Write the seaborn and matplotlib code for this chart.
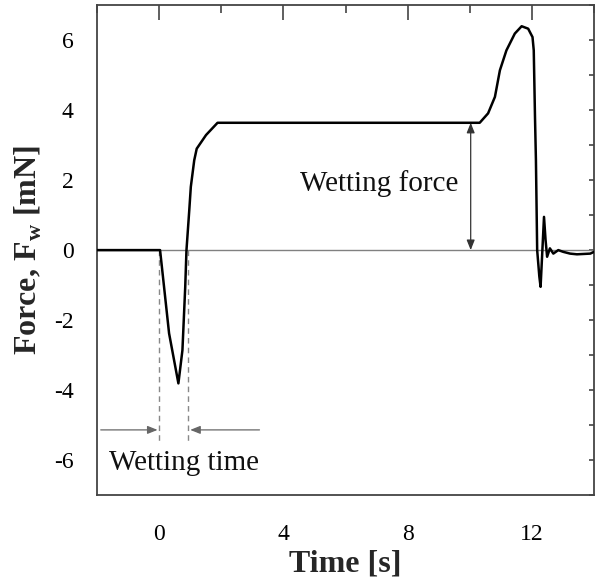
import numpy as np
import pandas as pd
import matplotlib
matplotlib.use("Agg")
import matplotlib.pyplot as plt
import seaborn as sns

# ---- data ----
time_s = [-2.0, 0.03, 0.32, 0.62, 0.75, 0.84, 0.88, 0.97, 1.02, 1.13, 1.21, 1.51, 1.88,
          10.32, 10.59, 10.81, 10.97, 11.18, 11.45, 11.67, 11.88, 12.02, 12.06, 12.10,
          12.13, 12.17, 12.24, 12.28, 12.39, 12.44, 12.49, 12.58, 12.69, 12.85, 13.01,
          13.23, 13.45, 13.88, 14.0]
force_mN = [0.0, 0.0, -2.38, -3.81, -2.86, -1.05, 0.0, 1.14, 1.81, 2.57, 2.90, 3.29, 3.64,
            3.64, 3.91, 4.38, 5.14, 5.71, 6.19, 6.40, 6.33, 6.09, 5.71, 3.80,
            2.57, 0.0, -0.76, -1.05, 0.95, 0.29, -0.19, 0.05, -0.10, 0.0, -0.05,
            -0.10, -0.12, -0.10, -0.05]

x_ticks = [0, 4, 8, 12]
y_ticks = [-6, -4, -2, 0, 2, 4, 6]
wetting_force_t = 10.03
wetting_force_val = 3.64
wetting_time_start = 0.0
wetting_time_end = 0.94

df = pd.DataFrame({"Time": time_s, "Force": force_mN})

sns.set_theme(style="white")
plt.rcParams["font.family"] = ["Liberation Serif", "DejaVu Serif"]
plt.rcParams["mathtext.fontset"] = "custom"
plt.rcParams["mathtext.rm"] = "Liberation Serif"
plt.rcParams["mathtext.bf"] = "Liberation Serif:bold"

fig = plt.figure(figsize=(5.97, 5.83), dpi=100)
ax = fig.add_axes([0.1625, 0.151, 0.8325, 0.840])

spine_col = "#444444"
ax.axhline(0, color="#808080", lw=1.0, zorder=1)

sns.lineplot(data=df, x="Time", y="Force", ax=ax, color="black", lw=1.8,
             estimator=None, sort=False, zorder=3)

ax.set_xlim(-2, 14)
ax.set_ylim(-7, 7)
ax.set_xticks(x_ticks)
ax.set_xticks([-2, 2, 6, 10, 14], minor=True)
ax.set_yticks(y_ticks)
ax.set_yticks([-7, -5, -3, -1, 1, 3, 5, 7], minor=True)
ax.set_xticklabels([str(v) for v in x_ticks])
ax.set_yticklabels([str(v) for v in y_ticks])

for s in ax.spines.values():
    s.set_color(spine_col)
    s.set_linewidth(1.3)

ax.tick_params(axis="both", which="major", direction="out", length=11, width=1.2,
               color=spine_col, labelsize=17, labelcolor="black")
ax.tick_params(axis="both", which="minor", direction="out", length=5, width=1.2,
               color=spine_col)
ax.tick_params(axis="x", which="major", pad=10)
ax.tick_params(axis="y", which="major", pad=6)

# top and right inward ticks
top = ax.secondary_xaxis("top")
top.set_xticks(x_ticks)
top.set_xticks([-2, 2, 6, 10, 14], minor=True)
top.set_xticklabels([])
top.tick_params(which="major", direction="in", length=11, width=1.2, color=spine_col)
top.tick_params(which="minor", direction="in", length=5.5, width=1.2, color=spine_col)
top.spines["top"].set_visible(False)

right = ax.secondary_yaxis("right")
right.set_yticks(y_ticks)
right.set_yticks([-7, -5, -3, -1, 1, 3, 5, 7], minor=True)
right.set_yticklabels([])
right.tick_params(which="both", direction="in", length=3.5, width=1.2, color=spine_col)
right.spines["right"].set_visible(False)

ax.set_xlabel("Time [s]", fontsize=23, fontweight="bold", labelpad=3)
ax.set_ylabel(r"Force, F$_{\mathbf{w}}$ [mN]", fontsize=23, fontweight="bold", labelpad=7)

# wetting force annotation
ax.annotate("", xy=(wetting_force_t, 0), xytext=(wetting_force_t, wetting_force_val),
            arrowprops=dict(arrowstyle="<|-|>,head_length=0.5,head_width=0.2",
                            color="#333333", lw=0.9, shrinkA=0, shrinkB=0), zorder=4)
ax.text(7.1, 1.9, "Wetting force", fontsize=21, ha="center", va="center", color="#111111")

# wetting time annotation
for tx in (wetting_time_start, wetting_time_end):
    ax.plot([tx, tx], [0.0, -5.45], ls=(0, (4, 3)), color="#888888", lw=1.0, zorder=2)
ax.annotate("", xy=(wetting_time_start - 0.05, -5.14), xytext=(-1.88, -5.14),
            arrowprops=dict(arrowstyle="-|>,head_length=0.5,head_width=0.2",
                            color="#666666", lw=0.9, shrinkA=0, shrinkB=0))
ax.annotate("", xy=(wetting_time_end + 0.06, -5.14), xytext=(3.23, -5.14),
            arrowprops=dict(arrowstyle="-|>,head_length=0.5,head_width=0.2",
                            color="#666666", lw=0.9, shrinkA=0, shrinkB=0))
ax.text(0.8, -6.1, "Wetting time", fontsize=21, ha="center", va="center", color="#111111")

fig.savefig("out.png", dpi=100)
